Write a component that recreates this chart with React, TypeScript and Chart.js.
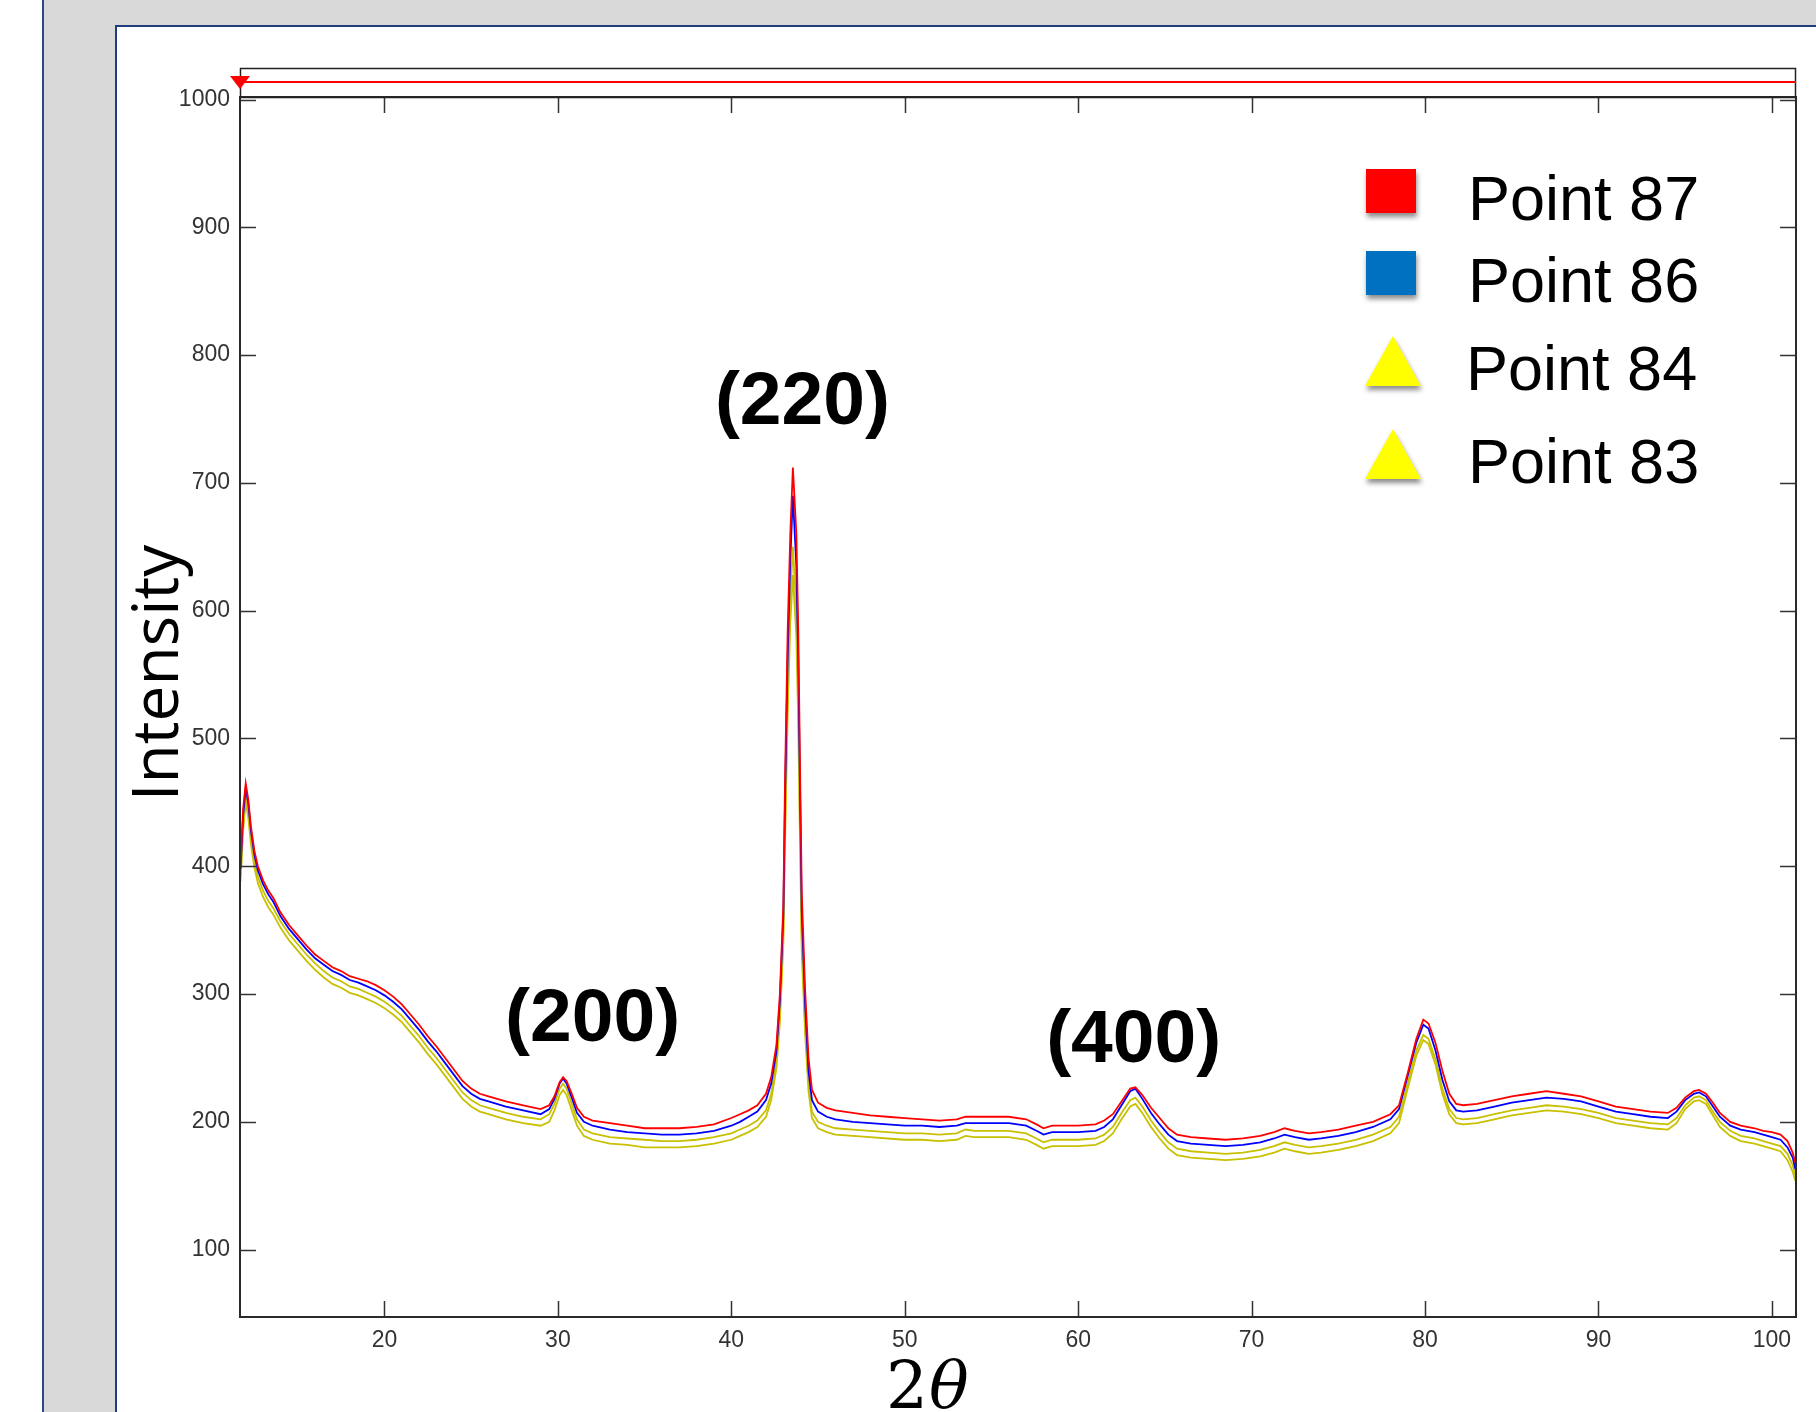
import React, { useEffect, useRef } from "react";
import { Chart, registerables } from "chart.js";

Chart.register(...registerables);

// ---------- data ----------
const twoTheta = [
  11.7, 11.85, 12.0, 12.15, 12.3, 12.5, 12.7, 13.0, 13.3, 13.6, 14.0, 14.5, 15.0, 15.5, 16.0, 16.5, 17.0, 17.5,
  18.0, 18.5, 19.0, 19.5, 20.0, 20.5, 21.0, 21.5, 22.0, 22.5, 23.0, 23.5, 24.0, 24.5, 25.0, 25.5, 26.0, 27.0,
  28.0, 29.0, 29.5, 29.8, 30.1, 30.3, 30.5, 30.8, 31.1, 31.5, 32.0, 33.0, 34.0, 35.0, 36.0, 37.0, 38.0, 39.0,
  40.0, 40.5, 41.0, 41.5, 42.0, 42.3, 42.6, 42.8, 43.0, 43.1, 43.25, 43.4, 43.55, 43.75, 43.86, 43.96, 44.06,
  44.25, 44.45, 44.65, 45.0, 45.5, 46.0, 47.0, 48.0, 49.0, 50.0, 51.0, 52.0, 53.0, 53.5, 54.0, 55.0, 56.0,
  57.0, 57.6, 58.0, 58.5, 59.0, 60.0, 61.0, 61.5, 62.0, 62.5, 63.0, 63.3, 63.7, 64.2, 64.7, 65.2, 65.7, 66.5,
  67.5, 68.5, 69.5, 70.5, 71.3, 71.9, 72.5, 73.3, 74.0, 75.0, 76.0, 77.0, 78.0, 78.5, 79.0, 79.5, 79.9, 80.2,
  80.6, 81.0, 81.4, 81.8, 82.2, 83.0, 84.0, 85.0, 86.0, 87.0, 88.0, 89.0, 90.0, 91.0, 92.0, 93.0, 94.0, 94.5,
  95.0, 95.5, 95.8, 96.2, 96.6, 97.0, 97.6, 98.2, 99.0, 99.5, 100.0, 100.5, 100.9, 101.2, 101.35,
];

const point87 = [
  400, 445, 465, 452, 431, 412, 400, 389, 381, 375, 364, 354, 346, 338, 331, 326, 321, 318,
  314, 312, 310, 307, 303, 298, 292, 284, 276, 267, 259, 250, 241, 232, 226, 222, 220, 216,
  213, 210, 213, 220, 231, 235, 232, 222, 211, 204, 201, 199, 197, 195, 195, 195, 196, 198,
  203, 206, 209, 213, 222, 235, 260, 300, 370, 470, 585, 660, 712, 660, 585, 480, 380,
  305, 250, 225, 215, 211, 209, 207, 205, 204, 203, 202, 201, 202, 204, 204, 204, 204,
  202, 198, 195, 197, 197, 197, 198, 201, 206, 216, 226, 227, 221, 211, 203, 195, 190, 188,
  187, 186, 187, 189, 192, 195, 193, 191, 192, 194, 197, 200, 206, 213, 238, 265, 280, 277,
  262, 240, 222, 214, 213, 214, 217, 220, 222, 224, 222, 220, 216, 212, 210, 208, 207, 211,
  219, 224, 225, 222, 215, 207, 200, 197, 195, 193, 192, 190, 185, 176, 168,
];

const point86 = [
  398, 440, 461, 449, 428, 409, 397, 386, 378, 372, 361, 351, 343, 335, 328, 323, 318, 315,
  311, 309, 306, 303, 299, 294, 288, 280, 272, 263, 255, 246, 237, 228, 222, 218, 216, 212,
  209, 206, 210, 218, 230, 234, 230, 219, 207, 200, 197, 194, 192, 191, 190, 190, 191, 193,
  197, 200, 204, 208, 217, 230, 255, 295, 362, 455, 565, 640, 690, 635, 560, 460, 365,
  293, 240, 217, 208, 204, 202, 200, 199, 198, 197, 197, 196, 197, 199, 199, 199, 199,
  197, 193, 190, 192, 192, 192, 193, 196, 202, 213, 224, 226, 218, 207, 198, 190, 185, 183,
  182, 181, 182, 184, 187, 190, 188, 186, 187, 189, 192, 196, 202, 210, 236, 262, 276, 273,
  256, 233, 216, 209, 208, 209, 212, 215, 217, 219, 218, 216, 212, 208, 206, 204, 203, 208,
  217, 222, 223, 220, 212, 204, 197, 194, 192, 190, 188, 186, 180, 172, 163,
];

const point84 = [
  392, 432, 455, 443, 422, 404, 392, 381, 373, 367, 357, 347, 339, 331, 324, 318, 313, 310,
  306, 304, 301, 298, 294, 289, 283, 275, 267, 258, 250, 241, 232, 223, 217, 213, 211, 207,
  204, 202, 206, 214, 226, 230, 226, 214, 202, 194, 191, 188, 187, 186, 185, 185, 186, 188,
  191, 194, 197, 201, 209, 222, 248, 285, 350, 435, 540, 610, 650, 600, 530, 435, 345,
  278, 230, 208, 200, 197, 195, 194, 193, 192, 191, 191, 190, 191, 194, 193, 193, 193,
  191, 187, 184, 186, 186, 186, 187, 190, 196, 207, 217, 219, 212, 201, 192, 184, 179, 177,
  176, 175, 176, 178, 181, 184, 182, 180, 181, 183, 186, 190, 196, 204, 230, 256, 268, 265,
  249, 226, 210, 203, 202, 203, 206, 209, 211, 213, 212, 210, 207, 203, 201, 199, 198, 203,
  213, 219, 220, 217, 208, 200, 193, 189, 187, 185, 183, 181, 175, 166, 158,
];

const point83 = [
  388, 428, 450, 438, 417, 399, 387, 376, 368, 362, 352, 342, 334, 326, 319, 313, 308, 305,
  301, 299, 296, 293, 289, 284, 278, 270, 262, 253, 245, 236, 227, 218, 212, 208, 206, 202,
  199, 197, 200, 209, 221, 225, 221, 209, 197, 189, 186, 183, 182, 180, 180, 180, 181, 183,
  186, 189, 192, 196, 204, 217, 242, 278, 340, 420, 520, 590, 628, 580, 510, 418, 333,
  270, 224, 203, 195, 192, 190, 189, 188, 187, 186, 186, 185, 186, 189, 188, 188, 188,
  186, 182, 179, 181, 181, 181, 182, 185, 191, 202, 212, 214, 207, 196, 187, 179, 174, 172,
  171, 170, 171, 173, 176, 179, 177, 175, 176, 178, 181, 185, 191, 199, 226, 252, 264, 261,
  245, 222, 206, 199, 198, 199, 202, 205, 207, 209, 208, 206, 203, 199, 197, 195, 194, 199,
  210, 216, 217, 214, 205, 196, 189, 185, 183, 181, 179, 177, 170, 161, 154,
];

const seriesLabels = ["Point 87", "Point 86", "Point 84", "Point 83"];
const seriesValues = [point87, point86, point84, point83];
const lineColors = ["#ff0000", "#0000ff", "#c8c000", "#c8c000"];
const legendColors = ["#ff0000", "#0070c0", "#ffff00", "#ffff00"];
const legendShapes = ["rect", "rect", "triangle", "triangle"];

const xTicks = [20, 30, 40, 50, 60, 70, 80, 90, 100];
const yTicks = [100, 200, 300, 400, 500, 600, 700, 800, 900, 1000];
const xMin = 11.67;
const xMax = 101.39;
const yMin = 47.3;
const yMax = 1002;

const peakLabels = ["(200)", "(220)", "(400)"];
const peakLabelX = [32.0, 44.1, 63.2];
const peakLabelY = [263, 746, 247];

const yTitle = "Intensity";

// ---------- plugin for MATLAB-like frame, legend, labels ----------
const decorPlugin = {
  id: "decor",
  afterDraw(chart: any) {
    const { ctx, chartArea: a, scales } = chart;
    const xs = scales.x;
    const ys = scales.y;
    ctx.save();

    // inward tick marks on all four sides
    ctx.strokeStyle = "#333";
    ctx.lineWidth = 1.5;
    const tl = 16;
    yTicks.forEach((v) => {
      const py = Math.round(ys.getPixelForValue(v)) + 0.5;
      ctx.beginPath();
      ctx.moveTo(a.left, py);
      ctx.lineTo(a.left + tl, py);
      ctx.moveTo(a.right - tl, py);
      ctx.lineTo(a.right, py);
      ctx.stroke();
    });
    xTicks.forEach((v) => {
      const px = Math.round(xs.getPixelForValue(v)) + 0.5;
      ctx.beginPath();
      ctx.moveTo(px, a.bottom);
      ctx.lineTo(px, a.bottom - tl);
      ctx.moveTo(px, a.top);
      ctx.lineTo(px, a.top + tl);
      ctx.stroke();
    });

    // axes box
    ctx.strokeStyle = "#2a2a2a";
    ctx.lineWidth = 2;
    ctx.strokeRect(a.left, a.top, a.right - a.left, a.bottom - a.top);

    // strip above axes (limit line)
    const stripTop = a.top - 29;
    ctx.lineWidth = 1.5;
    ctx.strokeStyle = "#222";
    ctx.strokeRect(a.left + 0.5, stripTop + 0.5, a.right - a.left - 1, a.top - stripTop);
    const ry = stripTop + 14;
    ctx.strokeStyle = "#ff0000";
    ctx.lineWidth = 2;
    ctx.beginPath();
    ctx.moveTo(a.left, ry);
    ctx.lineTo(a.right, ry);
    ctx.stroke();
    ctx.fillStyle = "#ff0000";
    ctx.beginPath();
    ctx.moveTo(a.left - 10, ry - 6);
    ctx.lineTo(a.left + 10, ry - 6);
    ctx.lineTo(a.left, ry + 7);
    ctx.closePath();
    ctx.fill();

    // peak labels
    ctx.fillStyle = "#000";
    ctx.font = 'bold 75px "Liberation Sans", Arial, sans-serif';
    ctx.textAlign = "center";
    ctx.textBaseline = "alphabetic";
    peakLabels.forEach((t, i) => {
      ctx.fillText(t, xs.getPixelForValue(peakLabelX[i]), ys.getPixelForValue(peakLabelY[i]));
    });

    // legend
    const markerLeft = a.right - 430;
    const textLeft = a.right - 328;
    const baselines = [123, 205, 293, 386];
    ctx.font = '63px "Liberation Sans", Arial, sans-serif';
    ctx.textAlign = "left";
    chart.data.datasets.forEach((ds: any, i: number) => {
      const base = a.top + baselines[i];
      ctx.save();
      ctx.shadowColor = "rgba(0,0,0,0.45)";
      ctx.shadowBlur = 5;
      ctx.shadowOffsetX = 1;
      ctx.shadowOffsetY = 4;
      ctx.fillStyle = legendColors[i];
      if (legendShapes[i] === "rect") {
        ctx.fillRect(markerLeft, base - 51, 50, 44);
      } else {
        ctx.beginPath();
        ctx.moveTo(markerLeft - 1, base - 4);
        ctx.lineTo(markerLeft + 55, base - 4);
        ctx.lineTo(markerLeft + 27, base - 54);
        ctx.closePath();
        ctx.fill();
      }
      ctx.restore();
      ctx.fillStyle = "#000";
      ctx.fillText(ds.label, textLeft - (i === 2 ? 2 : 0), base);
    });

    // y axis title
    ctx.save();
    ctx.translate(178, a.top + 576);
    ctx.rotate(-Math.PI / 2);
    ctx.font = '64px "Open Sans", "Noto Sans", sans-serif';
    ctx.textAlign = "center";
    ctx.fillStyle = "#000";
    ctx.fillText(yTitle, 0, 0);
    ctx.restore();

    // x axis title: 2θ
    ctx.fillStyle = "#000";
    ctx.textAlign = "left";
    const xb = a.bottom + 91;
    ctx.font = '66px "DejaVu Serif", "Liberation Serif", serif';
    ctx.fillText("2", 886, xb);
    const w2 = ctx.measureText("2").width;
    ctx.font = 'italic 66px "DejaVu Serif", "Liberation Serif", serif';
    ctx.fillText("θ", 886 + w2 + 1, xb);

    ctx.restore();
  },
};

export default function App() {
  const canvasRef = useRef<HTMLCanvasElement | null>(null);

  useEffect(() => {
    if (!canvasRef.current) return;
    const datasets = seriesLabels.map((label, i) => ({
      label,
      data: twoTheta.map((t, j) => ({ x: t, y: seriesValues[i][j] })),
      borderColor: lineColors[i],
      backgroundColor: lineColors[i],
      borderWidth: 1.8,
      pointRadius: 0,
      tension: 0,
      fill: false,
      order: i,
    }));
    const tickFont = { family: '"Liberation Sans Narrow", "Liberation Sans", Arial, sans-serif', size: 23 };
    const chart = new Chart(canvasRef.current, {
      type: "line",
      data: { datasets },
      options: {
        animation: false,
        responsive: false,
        events: [],
        layout: { padding: { top: 97, right: 20, left: 0, bottom: 0 } },
        plugins: { legend: { display: false }, tooltip: { enabled: false }, title: { display: false } },
        scales: {
          x: {
            type: "linear",
            min: xMin,
            max: xMax,
            grid: { display: false, drawTicks: false },
            border: { display: false },
            afterBuildTicks: (s: any) => {
              s.ticks = xTicks.map((v) => ({ value: v }));
            },
            afterFit: (s: any) => {
              s.height = 95;
            },
            ticks: {
              autoSkip: false,
              maxRotation: 0,
              padding: 10,
              color: "#333",
              font: tickFont,
              callback: (v: any) => String(v),
            },
          },
          y: {
            type: "linear",
            min: yMin,
            max: yMax,
            grid: { display: false, drawTicks: false },
            border: { display: false },
            afterBuildTicks: (s: any) => {
              s.ticks = yTicks.map((v) => ({ value: v }));
            },
            afterFit: (s: any) => {
              s.width = 240;
            },
            ticks: {
              autoSkip: false,
              padding: 10,
              color: "#333",
              font: tickFont,
              callback: (v: any) => String(v),
            },
          },
        },
      },
      plugins: [decorPlugin],
    } as any);
    return () => chart.destroy();
  }, []);

  return (
    <div style={{ position: "absolute", left: 0, top: 0, width: 1816, height: 1412, background: "#fff", overflow: "hidden" }}>
      <div
        style={{
          position: "absolute",
          left: 42,
          top: 0,
          width: 1774,
          height: 1412,
          background: "#d9d9d9",
          borderLeft: "2px solid #2c4b86",
          boxSizing: "border-box",
        }}
      />
      <div
        style={{
          position: "absolute",
          left: 115,
          top: 25,
          width: 1701,
          height: 1387,
          background: "#fff",
          borderLeft: "2px solid #1f3d7a",
          borderTop: "2px solid #1f3d7a",
          boxSizing: "border-box",
        }}
      />
      <canvas ref={canvasRef} width={1816} height={1412} style={{ position: "absolute", left: 0, top: 0, width: 1816, height: 1412 }} />
    </div>
  );
}
